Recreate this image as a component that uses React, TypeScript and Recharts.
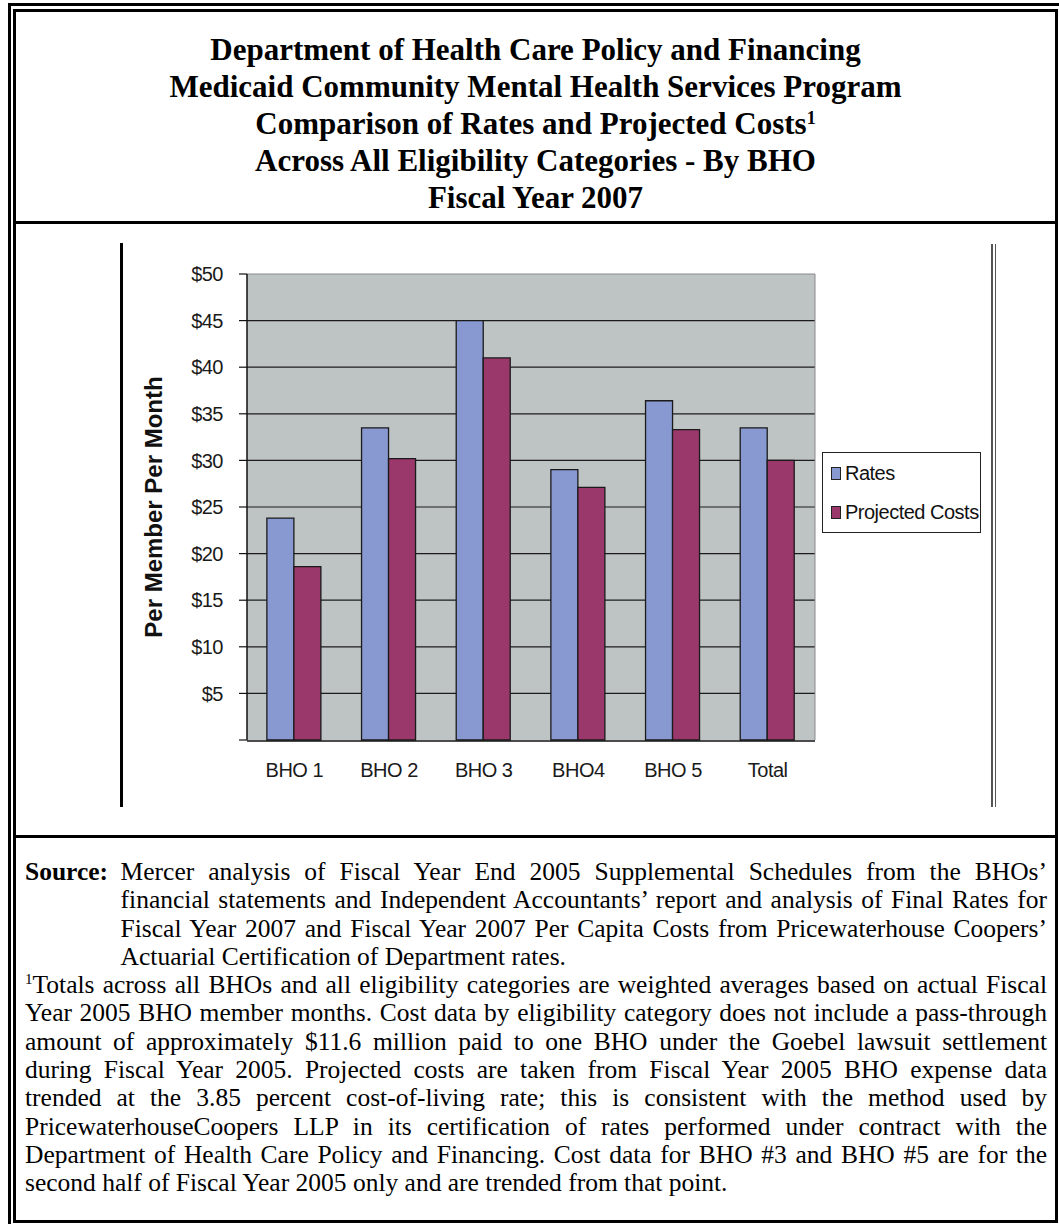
import React from 'react';
import { BarChart, Bar, XAxis, YAxis, CartesianGrid, Legend } from 'recharts';

// ---- chart data ----
const CATEGORIES = ['BHO 1', 'BHO 2', 'BHO 3', 'BHO4', 'BHO 5', 'Total'];
const RATES = [23.8, 33.5, 45.0, 29.0, 36.4, 33.5];
const PROJECTED_COSTS = [18.6, 30.2, 41.0, 27.1, 33.3, 30.0];
const SERIES_NAMES = ['Rates', 'Projected Costs'];
const Y_TICKS = [0, 5, 10, 15, 20, 25, 30, 35, 40, 45, 50];
const GRID_VALUES = [5, 10, 15, 20, 25, 30, 35, 40, 45];
const Y_LABEL = 'Per Member Per Month';

// ---- document text ----
const TITLE_LINES = [
  'Department of Health Care Policy and Financing',
  'Medicaid Community Mental Health Services Program',
  'Comparison of Rates and Projected Costs',
  'Across All Eligibility Categories - By BHO',
  'Fiscal Year 2007',
];
const SOURCE_LABEL = 'Source:';
const SOURCE_LINES = [
  'Mercer analysis of Fiscal Year End 2005 Supplemental Schedules from the BHOs\u2019',
  'financial statements and Independent Accountants\u2019 report and analysis of Final Rates for',
  'Fiscal Year 2007 and Fiscal Year 2007 Per Capita Costs from Pricewaterhouse Coopers\u2019',
  'Actuarial Certification of Department rates.',
];
const NOTE_LINES = [
  'Totals across all BHOs and all eligibility categories are weighted averages based on actual Fiscal',
  'Year 2005 BHO member months. Cost data by eligibility category does not include a pass-through',
  'amount of approximately $11.6 million paid to one BHO under the Goebel lawsuit settlement',
  'during Fiscal Year 2005. Projected costs are taken from Fiscal Year 2005 BHO expense data',
  'trended at the 3.85 percent cost-of-living rate; this is consistent with the method used by',
  'PricewaterhouseCoopers LLP in its certification of rates performed under contract with the',
  'Department of Health Care Policy and Financing. Cost data for BHO #3 and BHO #5 are for the',
  'second half of Fiscal Year 2005 only and are trended from that point.',
];

const data = CATEGORIES.map((name, i) => ({
  name,
  rates: RATES[i],
  projected: PROJECTED_COSTS[i],
}));
const EDGE_TICKS = CATEGORIES.map((_, i) => i).concat([CATEGORIES.length]);

const SERIF = "'Liberation Serif', 'Times New Roman', Times, serif";
const SANS = "'Liberation Sans', Arial, Helvetica, sans-serif";
const RATE_COLOR = '#8899D2';
const COST_COLOR = '#9B386B';
const PLOT_BG = '#BEC3C4';

function YAxisTitle(props: any) {
  const vb = props.viewBox || { x: 0, y: 0, width: 0, height: 0 };
  const cx = vb.x + 153;
  const cy = vb.y + vb.height / 2;
  return (
    <text
      x={cx}
      y={cy}
      transform={`rotate(-90 ${cx} ${cy})`}
      textAnchor="middle"
      dominantBaseline="central"
      fontSize={24}
      fontWeight="bold"
      fill="#111"
      style={{ letterSpacing: '0px' }}
    >
      {Y_LABEL}
    </text>
  );
}

function LegendBox(props: any) {
  const payload = [...(props.payload || [])].sort(
    (a: any, b: any) => SERIES_NAMES.indexOf(a.value) - SERIES_NAMES.indexOf(b.value)
  );
  return (
    <div
      style={{
        width: 159,
        height: 81,
        boxSizing: 'border-box',
        border: '1px solid #222',
        background: '#fff',
        paddingTop: 1,
        fontFamily: SANS,
        fontSize: 20,
        letterSpacing: '-0.5px',
        color: '#111',
      }}
    >
      {payload.map((p: any) => (
        <div key={p.value} style={{ display: 'flex', alignItems: 'center', height: 39 }}>
          <span
            style={{
              display: 'inline-block',
              width: 8,
              height: 11,
              marginLeft: 8,
              marginRight: 4,
              background: p.color,
              border: '1px solid #222',
            }}
          />
          <span>{p.value}</span>
        </div>
      ))}
    </div>
  );
}

function Chart() {
  return (
    <BarChart
      width={1059}
      height={612}
      data={data}
      margin={{ top: 49, right: 243, bottom: 94, left: 0 }}
      barCategoryGap="21%"
      barGap={0}
      style={{ fontFamily: SANS, letterSpacing: '-0.5px' }}
    >
      <CartesianGrid
        vertical={false}
        horizontalValues={GRID_VALUES}
        fill={PLOT_BG}
        fillOpacity={1}
        stroke="#1c1c1c"
        strokeWidth={1.2}
      />
      <XAxis
        xAxisId="top"
        orientation="top"
        dataKey="name"
        height={1}
        tick={false}
        tickLine={false}
        axisLine={{ stroke: '#8a8a8a' }}
      />
      <XAxis
        dataKey="name"
        height={1}
        interval={0}
        tickLine={false}
        axisLine={false}
        tickSize={0}
        tickMargin={23}
        tick={{ fontSize: 20, fill: '#1a1a1a' }}
      />
      <XAxis
        xAxisId="edges"
        type="number"
        domain={[0, CATEGORIES.length]}
        allowDataOverflow
        ticks={EDGE_TICKS}
        interval={0}
        height={1}
        tick={false}
        tickSize={7}
        tickLine={{ stroke: '#111', strokeWidth: 1.2 }}
        axisLine={{ stroke: '#111', strokeWidth: 1.5 }}
      />
      <YAxis
        width={247}
        domain={[0, 50]}
        ticks={Y_TICKS}
        interval={0}
        tickFormatter={(v: number) => (v === 0 ? '' : `$${v}`)}
        tickSize={8}
        tickMargin={16}
        tick={{ fontSize: 20, fill: '#1a1a1a' }}
        tickLine={{ stroke: '#111', strokeWidth: 1.2 }}
        axisLine={{ stroke: '#111', strokeWidth: 1.5 }}
        label={{ value: Y_LABEL, content: YAxisTitle }}
      />
      <YAxis
        yAxisId="right"
        orientation="right"
        width={1}
        domain={[0, 50]}
        tick={false}
        tickLine={false}
        axisLine={{ stroke: '#8a8a8a' }}
      />
      <Legend
        layout="vertical"
        align="center"
        verticalAlign="middle"
        wrapperStyle={{ left: 822, top: 228, width: 159, height: 81 }}
        content={LegendBox}
      />
      <Bar dataKey="rates" name={SERIES_NAMES[0]} fill={RATE_COLOR} stroke="#1a1a1a" strokeWidth={1.3} isAnimationActive={false} />
      <Bar dataKey="projected" name={SERIES_NAMES[1]} fill={COST_COLOR} stroke="#1a1a1a" strokeWidth={1.3} isAnimationActive={false} />
    </BarChart>
  );
}

const justified: React.CSSProperties = {
  whiteSpace: 'nowrap',
  textAlign: 'justify',
  textAlignLast: 'justify',
};
const lastLine: React.CSSProperties = { whiteSpace: 'nowrap', textAlign: 'left' };

export default function App() {
  return (
    <div
      style={{
        position: 'absolute',
        left: 0,
        top: 0,
        width: 1059,
        height: 1224,
        background: '#fff',
        overflow: 'hidden',
        color: '#000',
      }}
    >
      {/* outer frame lines (top and left) */}
      <div style={{ position: 'absolute', left: 8, top: 3, width: 1200, height: 1400, borderTop: '3px solid #000', borderLeft: '3px solid #000' }} />
      {/* inner frame */}
      <div style={{ position: 'absolute', left: 13, top: 9, width: 1045, height: 1214, boxSizing: 'border-box', border: '3px solid #000' }} />
      {/* section separators */}
      <div style={{ position: 'absolute', left: 16, top: 221, width: 1039, height: 3, background: '#000' }} />
      <div style={{ position: 'absolute', left: 16, top: 835, width: 1039, height: 3, background: '#000' }} />

      {/* title */}
      <div
        style={{
          position: 'absolute',
          left: 16,
          top: 31,
          width: 1039,
          textAlign: 'center',
          fontFamily: SERIF,
          fontWeight: 'bold',
          fontSize: 31,
          lineHeight: '37px',
        }}
      >
        {TITLE_LINES.map((t, i) => (
          <div key={i}>
            {t}
            {i === 2 && <sup style={{ fontSize: 18, lineHeight: 0, verticalAlign: '0.55em' }}>1</sup>}
          </div>
        ))}
      </div>

      {/* chart frame lines */}
      <div style={{ position: 'absolute', left: 120, top: 243, width: 3, height: 564, background: '#000' }} />
      <div style={{ position: 'absolute', left: 991, top: 244, width: 1.5, height: 563, background: '#555' }} />
      <div style={{ position: 'absolute', left: 994.5, top: 244, width: 1.5, height: 563, background: '#555' }} />

      <div style={{ position: 'absolute', left: 0, top: 224 }}>
        <Chart />
      </div>

      {/* source and footnote */}
      <div
        style={{
          position: 'absolute',
          left: 25,
          top: 858,
          width: 1022,
          fontFamily: SERIF,
          fontSize: 25.5,
          lineHeight: '28.3px',
        }}
      >
        <div style={{ display: 'flex' }}>
          <span style={{ width: 95.6, flex: 'none', fontWeight: 'bold', whiteSpace: 'nowrap' }}>{SOURCE_LABEL}</span>
          <span style={{ flex: 1, ...justified }}>{SOURCE_LINES[0]}</span>
        </div>
        {SOURCE_LINES.slice(1).map((t, i, arr) => (
          <div key={'s' + i} style={{ marginLeft: 95.6, ...(i === arr.length - 1 ? lastLine : justified) }}>
            {t}
          </div>
        ))}
        {NOTE_LINES.map((t, i) => (
          <div key={'n' + i} style={i === NOTE_LINES.length - 1 ? lastLine : justified}>
            {i === 0 && <sup style={{ fontSize: 15, lineHeight: 0, verticalAlign: '0.6em' }}>1</sup>}
            {t}
          </div>
        ))}
      </div>
    </div>
  );
}
